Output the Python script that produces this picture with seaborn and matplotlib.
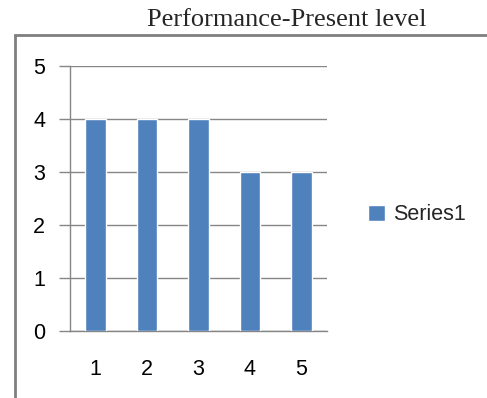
import matplotlib
matplotlib.use("Agg")
import matplotlib.pyplot as plt
from matplotlib.patches import Rectangle
import numpy as np
import pandas as pd
import seaborn as sns

categories = ["1", "2", "3", "4", "5"]
values = [4, 4, 4, 3, 3]
series_name = "Series1"
title = "Performance-Present level"

sns.set_theme(style="white")
plt.rcParams["font.family"] = ["Liberation Sans", "DejaVu Sans"]

df = pd.DataFrame({"cat": categories, "val": values})

fig = plt.figure(figsize=(4.87, 3.98), dpi=100)
ax = fig.add_axes([70 / 487, 1 - 331 / 398, 257 / 487, 265 / 398])

# chart frame around the plot area
fig.patches.append(Rectangle((15 / 487, -0.1), 1.2, 1 - 35 / 398 + 0.1,
                             transform=fig.transFigure, fill=False,
                             edgecolor="#7f7f7f", linewidth=2, zorder=0))

sns.barplot(data=df, x="cat", y="val", color="#4F81BD", width=0.4,
            saturation=1, label=series_name, ax=ax, zorder=3)

ax.set_xlim(-0.5, len(categories) - 0.5)
ax.set_ylim(0, 5)
ax.set_yticks(range(0, 6))
ax.yaxis.grid(True, color="#868686", linewidth=1)
ax.set_axisbelow(True)
ax.set_xlabel("")
ax.set_ylabel("")

for s in ["top", "right"]:
    ax.spines[s].set_visible(False)
for s in ["left", "bottom"]:
    ax.spines[s].set_color("#868686")
    ax.spines[s].set_linewidth(1)

ax.set_xticks(np.arange(-0.5, len(categories)), minor=True)
ax.tick_params(axis="x", which="major", length=0, pad=20, labelsize=15.5, colors="#000000")
ax.tick_params(axis="x", which="minor", length=10, width=1, color="#868686", direction="out")
ax.tick_params(axis="y", which="major", length=8, width=1, color="#868686", direction="out",
               pad=10, labelsize=15.5, labelcolor="#000000", left=True)

leg = ax.legend(loc="center left", bbox_to_anchor=(349 / 487, 1 - 215 / 398),
                bbox_transform=fig.transFigure, frameon=False, fontsize=15.5,
                handlelength=0.75, handleheight=0.75, handletextpad=0.4)

fig.text(287 / 487, 1 - 20 / 398, title, ha="center", va="center",
         fontsize=19, family=["Liberation Serif", "DejaVu Serif"])

fig.savefig("out.png", dpi=100)
